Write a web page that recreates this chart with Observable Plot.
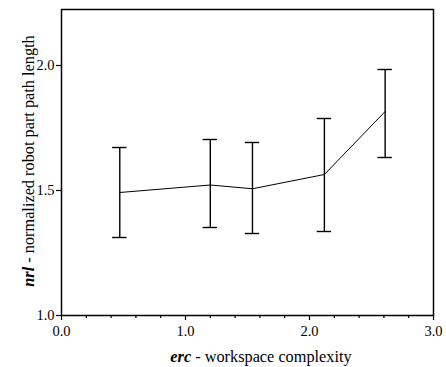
<!DOCTYPE html>
<html>
<head>
<meta charset="utf-8">
<script src="https://cdn.jsdelivr.net/npm/d3@7"></script>
<script src="https://cdn.jsdelivr.net/npm/@observablehq/plot@0.6"></script>
<style>
  html, body { margin: 0; padding: 0; background: white; }
  svg text { font-family: "Liberation Serif", "Times New Roman", serif; }
</style>
</head>
<body>
<div id="chart"></div>
<script>
const erc = [0.47, 1.20, 1.54, 2.12, 2.61];
const nrlMean = [1.492, 1.522, 1.507, 1.564, 1.816];
const nrlUpper = [1.672, 1.704, 1.692, 1.788, 1.984];
const nrlLower = [1.312, 1.352, 1.328, 1.336, 1.632];
const xTicks = [0, 1, 2, 3];
const xMinorTicks = [0.2, 0.4, 0.6, 0.8, 1.2, 1.4, 1.6, 1.8, 2.2, 2.4, 2.6, 2.8];
const yTicks = [1.0, 1.5, 2.0];

const data = erc.map((x, i) => ({x, mean: nrlMean[i], lo: nrlLower[i], hi: nrlUpper[i]}));
const cap = 0.058;
const serif = '"Liberation Serif", "Times New Roman", serif';

const plot = Plot.plot({
  width: 446,
  height: 367,
  marginLeft: 61,
  marginRight: 13,
  marginTop: 9,
  marginBottom: 52,
  style: {fontFamily: serif, fontSize: "14.5px", background: "white", color: "black", overflow: "visible"},
  x: {domain: [0, 3]},
  y: {domain: [1, 2.224]},
  marks: [
    Plot.frame({stroke: "black", strokeWidth: 1.5}),
    Plot.axisX({ticks: xMinorTicks, tickSize: 3, tickFormat: () => "", label: null, strokeWidth: 1.2}),
    Plot.axisX({ticks: xTicks, tickSize: 5, tickPadding: 5, tickFormat: d => d.toFixed(1), label: null, strokeWidth: 1.2, fontSize: 14.5}),
    Plot.axisY({ticks: yTicks, tickSize: 5, tickPadding: 2, tickFormat: d => d.toFixed(1), label: null, strokeWidth: 1.2, fontSize: 14.5}),
    Plot.line(data, {x: "x", y: "mean", stroke: "black", strokeWidth: 1}),
    Plot.ruleX(data, {x: "x", y1: "lo", y2: "hi", stroke: "black", strokeWidth: 1.4}),
    Plot.ruleY(data, {y: "hi", x1: d => d.x - cap, x2: d => d.x + cap, stroke: "black", strokeWidth: 1.4}),
    Plot.ruleY(data, {y: "lo", x1: d => d.x - cap, x2: d => d.x + cap, stroke: "black", strokeWidth: 1.4})
  ]
});

document.getElementById("chart").appendChild(plot);

const svg = d3.select(plot);
const xl = svg.append("text")
  .attr("x", 261).attr("y", 362)
  .attr("text-anchor", "middle")
  .style("font-family", serif)
  .style("font-size", "16.3px")
  .attr("fill", "black");
xl.append("tspan").attr("font-weight", "bold").attr("font-style", "italic").text("erc");
xl.append("tspan").text(" - workspace complexity");

const yl = svg.append("text")
  .attr("transform", "translate(34,161) rotate(-90)")
  .attr("text-anchor", "middle")
  .style("font-family", serif)
  .style("font-size", "16.3px")
  .attr("fill", "black");
yl.append("tspan").attr("font-weight", "bold").attr("font-style", "italic").text("nrl");
yl.append("tspan").text(" - normalized robot part path length");
</script>
</body>
</html>
